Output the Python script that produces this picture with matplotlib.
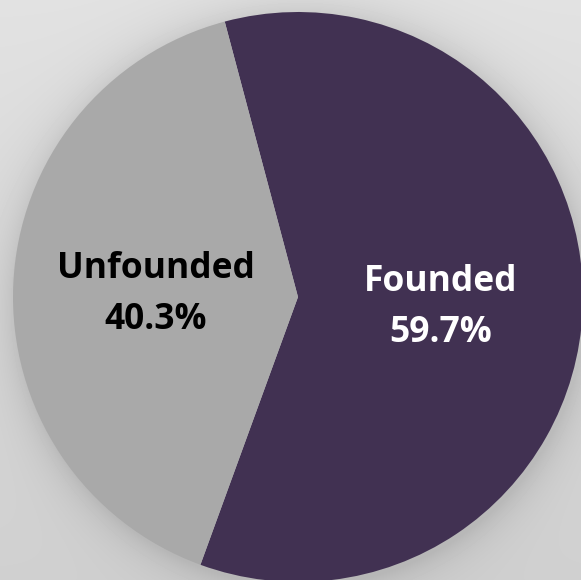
import numpy as np
import matplotlib.pyplot as plt

categories = ["Founded", "Unfounded"]
shares = [59.7, 40.3]
colors = ["#413152", "#a9a9a9"]
text_colors = ["white", "black"]

W, H = 581, 580
cx, cy, R = 298, 297, 285

fig = plt.figure(figsize=(W / 100, H / 100), dpi=100)
ax = fig.add_axes([0, 0, 1, 1])
ax.set_xlim(-cx / R, (W - cx) / R)
ax.set_ylim(-(H - cy) / R, cy / R)
ax.set_aspect("equal")
ax.axis("off")

# background gradient with a soft shadow round the pie
yy, xx = np.mgrid[0:H, 0:W]
bg = 0.885 - 0.07 * yy / H
d = np.hypot(xx - cx - 2, yy - cy - 3) - R
shadow = 0.10 * np.exp(-np.clip(d, 0, None) / 20.0)
img = np.clip(bg - shadow, 0, 1)
ax.imshow(img, cmap="gray", vmin=0, vmax=1,
          extent=[-cx / R, (W - cx) / R, -(H - cy) / R, cy / R],
          origin="upper", zorder=0, interpolation="bilinear")

wedges, _ = ax.pie(shares, colors=colors, startangle=104.9, counterclock=False,
                   radius=1, center=(0, 0), frame=True)
for w in wedges:
    w.set_zorder(2)
ax.set_xlim(-cx / R, (W - cx) / R)
ax.set_ylim(-(H - cy) / R, cy / R)
ax.axis("off")

for w, name, val, tc in zip(wedges, categories, shares, text_colors):
    mid = np.deg2rad((w.theta1 + w.theta2) / 2)
    x, y = 0.5 * np.cos(mid), 0.5 * np.sin(mid) - 0.015
    ax.text(x, y, f"{name}\n{val:.1f}%", ha="center", va="center",
            color=tc, fontsize=25.5, fontweight="bold", family="Open Sans",
            linespacing=1.55, zorder=3)

plt.savefig("out.png", dpi=100)
